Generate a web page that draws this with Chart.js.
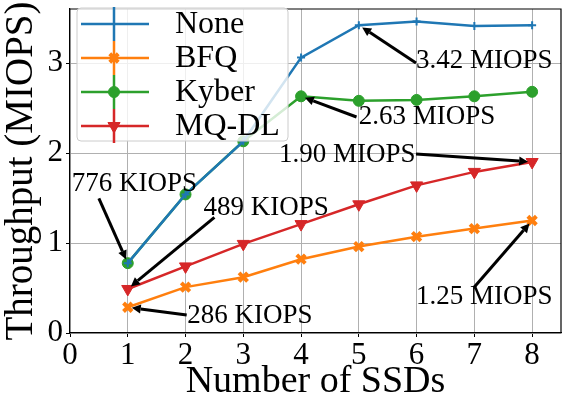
<!DOCTYPE html>
<html>
<head>
<meta charset="utf-8">
<script src="https://cdn.jsdelivr.net/npm/chart.js@4.4.1/dist/chart.umd.min.js"></script>
<style>
    html, body { margin: 0; padding: 0; background: #fff; }
    #wrap { width: 564px; height: 401px; }
</style>
</head>
<body>
<div id="wrap"><canvas id="chart"></canvas></div>
<script>
"use strict";

// throughput in MIOPS per number of SSDs
const ssdCounts = [1, 2, 3, 4, 5, 6, 7, 8];
const noneIops  = [0.776, 1.54, 2.13, 3.06, 3.42, 3.46, 3.41, 3.42];
const bfqIops   = [0.286, 0.51, 0.62, 0.82, 0.96, 1.07, 1.16, 1.25];
const kyberIops = [0.776, 1.54, 2.13, 2.63, 2.58, 2.59, 2.63, 2.68];
const mqdlIops  = [0.489, 0.74, 0.99, 1.21, 1.43, 1.64, 1.79, 1.90];

const seriesNames  = ['None', 'BFQ', 'Kyber', 'MQ-DL'];
const seriesValues = [noneIops, bfqIops, kyberIops, mqdlIops];
const seriesColors = ['#1f77b4', '#ff7f0e', '#2ca02c', '#d62728'];

const xTicks = [0, 1, 2, 3, 4, 5, 6, 7, 8];
const yTicks = [0, 1, 2, 3];

// callouts: text, [series, point], text anchor (data coords + align), arrow tail (data coords)
const calloutLabels  = ['776 KIOPS', '489 KIOPS', '286 KIOPS', '3.42 MIOPS', '2.63 MIOPS', '1.90 MIOPS', '1.25 MIOPS'];
const calloutTargets = [[2, 0], [3, 0], [1, 0], [0, 4], [2, 3], [3, 7], [1, 7]];
const calloutAnchors = [[0.03, 1.66, 'left'], [2.31, 1.385, 'left'], [2.03, 0.19, 'left'],
                        [5.99, 3.02, 'left'], [5.0, 2.40, 'left'], [5.98, 1.98, 'right'], [5.99, 0.40, 'left']];
const calloutTails   = [[0.50, 1.495], [2.50, 1.285], [2.02, 0.20],
                        [5.99, 3.00], [4.96, 2.40], [5.99, 1.99], [7.0, 0.51]];

const serif = "'Liberation Serif', 'Times New Roman', serif";

const pointStyles = [
    {pointStyle: 'cross', radius: 4, rotation: 0, borderWidth: 2},
    {pointStyle: 'crossRot', radius: 6, rotation: 0, borderWidth: 4},
    {pointStyle: 'circle', radius: 5.5, rotation: 0, borderWidth: 1},
    {pointStyle: 'triangle', radius: 7, rotation: 180, borderWidth: 1}
];

function drawArrow(ctx, x0, y0, x1, y1) {
    const ang = Math.atan2(y1 - y0, x1 - x0),
        cos = Math.cos(ang), sin = Math.sin(ang);
    // stop short of the marker a little
    x1 -= cos * 4;
    y1 -= sin * 4;
    const head = 9, half = 4.5,
        bx = x1 - head * cos, by = y1 - head * sin;
    ctx.beginPath();
    ctx.moveTo(x0, y0);
    ctx.lineTo(bx, by);
    ctx.stroke();
    ctx.beginPath();
    ctx.moveTo(x1, y1);
    ctx.lineTo(bx + half * sin, by - half * cos);
    ctx.lineTo(bx - half * sin, by + half * cos);
    ctx.closePath();
    ctx.fill();
}

const extras = {
    id: 'extras',
    afterDatasetsDraw(chart) {
        const {ctx, chartArea: area, scales: {x, y}} = chart;
        ctx.save();

        // top and right spines
        ctx.strokeStyle = '#000';
        ctx.lineWidth = 1.2;
        ctx.beginPath();
        ctx.moveTo(area.left, area.top);
        ctx.lineTo(area.right, area.top);
        ctx.lineTo(area.right, area.bottom);
        ctx.stroke();

        // callouts
        ctx.fillStyle = '#000';
        ctx.strokeStyle = '#000';
        ctx.lineWidth = 3;
        ctx.font = '27px ' + serif;
        ctx.textBaseline = 'middle';
        calloutLabels.forEach((text, i) => {
            const [s, p] = calloutTargets[i],
                tx = x.getPixelForValue(ssdCounts[p]),
                ty = y.getPixelForValue(seriesValues[s][p]),
                [ax, ay, align] = calloutAnchors[i],
                [hx, hy] = calloutTails[i];
            drawArrow(ctx, x.getPixelForValue(hx), y.getPixelForValue(hy), tx, ty);
            ctx.textAlign = align;
            ctx.fillText(text, x.getPixelForValue(ax), y.getPixelForValue(ay));
        });

        // legend box
        const bx = area.left + 7, by = area.top - 1, bw = 211, bh = 133, r = 4;
        ctx.beginPath();
        ctx.roundRect(bx, by, bw, bh, r);
        ctx.fillStyle = 'rgba(255,255,255,0.8)';
        ctx.fill();
        ctx.strokeStyle = '#cccccc';
        ctx.lineWidth = 1;
        ctx.stroke();

        ctx.font = '32px ' + serif;
        ctx.textAlign = 'left';
        seriesNames.forEach((name, i) => {
            const cy = by + 16 + i * 34, cx = bx + 37;
            ctx.strokeStyle = seriesColors[i];
            ctx.fillStyle = seriesColors[i];
            ctx.lineWidth = 2.5;
            ctx.beginPath();
            ctx.moveTo(bx + 4, cy);
            ctx.lineTo(bx + 72, cy);
            ctx.moveTo(cx, cy - 17);
            ctx.lineTo(cx, cy + 17);
            ctx.stroke();
            const ps = pointStyles[i];
            ctx.lineWidth = ps.borderWidth;
            Chart.helpers.drawPoint(ctx, ps, cx, cy);
            ctx.fillStyle = '#000';
            ctx.fillText(name, bx + 98, cy + 1);
        });

        ctx.restore();
    }
};

const datasets = seriesNames.map((name, i) => ({
    label: name,
    data: ssdCounts.map((n, j) => ({x: n, y: seriesValues[i][j]})),
    borderColor: seriesColors[i],
    backgroundColor: seriesColors[i],
    borderWidth: 2.5,
    pointStyle: pointStyles[i].pointStyle,
    pointRadius: pointStyles[i].radius,
    pointRotation: pointStyles[i].rotation,
    pointBorderWidth: pointStyles[i].borderWidth,
    tension: 0,
    clip: false
}));

new Chart(document.getElementById('chart'), {
    type: 'line',
    data: {datasets},
    plugins: [extras],
    options: {
        responsive: true,
        maintainAspectRatio: false,
        animation: false,
        devicePixelRatio: 1,
        layout: {autoPadding: false, padding: {top: 9, right: 3, left: 0, bottom: 0}},
        plugins: {legend: {display: false}, tooltip: {enabled: false}},
        scales: {
            x: {
                type: 'linear',
                min: 0,
                max: 8.5,
                afterFit(s) {
                    s.height = 68;
                    s.paddingLeft = 0;
                    s.paddingRight = 0;
                },
                afterBuildTicks(s) { s.ticks = xTicks.map(v => ({value: v})); },
                ticks: {font: {family: serif, size: 31}, color: '#000', padding: 0, maxRotation: 0, autoSkip: false},
                grid: {color: '#b0b0b0', lineWidth: 1, tickColor: '#000', tickLength: 4},
                border: {color: '#000', width: 1.2},
                title: {
                    display: true, text: 'Number of SSDs', color: '#000',
                    font: {family: serif, size: 38, lineHeight: 1}, padding: {top: 0, bottom: 0}
                }
            },
            y: {
                type: 'linear',
                min: 0,
                max: 3.6,
                afterFit(s) {
                    s.width = 70;
                    s.paddingTop = 0;
                    s.paddingBottom = 0;
                },
                afterBuildTicks(s) { s.ticks = yTicks.map(v => ({value: v})); },
                ticks: {font: {family: serif, size: 31}, color: '#000', padding: 3},
                grid: {color: '#b0b0b0', lineWidth: 1, tickColor: '#000', tickLength: 4},
                border: {color: '#000', width: 1.2},
                title: {
                    display: true, text: 'Throughput (MIOPS)', color: '#000',
                    font: {family: serif, size: 39, lineHeight: 1}, padding: {top: 2, bottom: 0}
                }
            }
        }
    }
});
</script>
</body>
</html>
